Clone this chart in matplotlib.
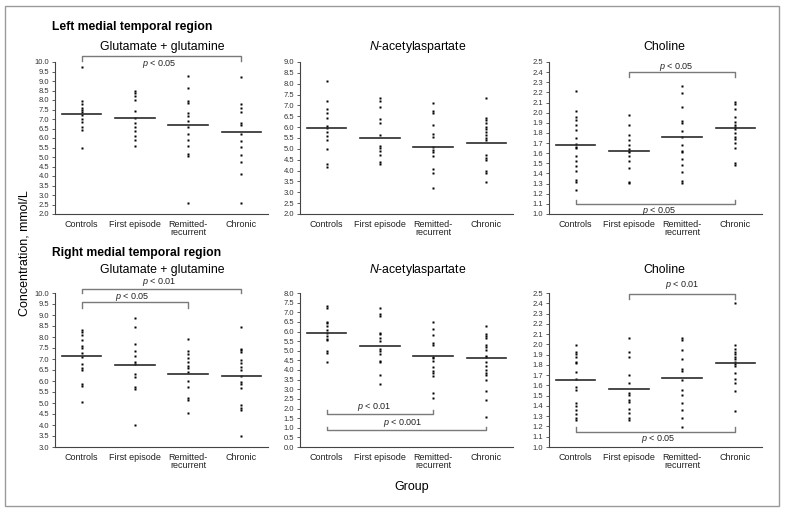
import numpy as np
import matplotlib
matplotlib.use('Agg')
import matplotlib.pyplot as plt
from matplotlib.patches import Rectangle

plt.rcParams['font.family'] = ['Liberation Sans', 'DejaVu Sans']
plt.rcParams['mathtext.fontset'] = 'custom'
plt.rcParams['mathtext.rm'] = 'Liberation Sans'
plt.rcParams['mathtext.it'] = 'Liberation Sans:italic'

gruppi = ['Controls', 'First episode', 'Remitted-\nrecurrent', 'Chronic']

# --- left medial temporal region ---
left_glx_controls = [9.75, 7.95, 7.8, 7.6, 7.45, 7.35, 7.2, 7.0, 6.85, 6.6, 6.4, 5.5]
left_glx_first = [8.48, 8.36, 8.22, 8.0, 7.4, 7.06, 6.8, 6.6, 6.38, 6.13, 5.87, 5.6]
left_glx_remitted = [9.25, 8.64, 7.96, 7.82, 7.32, 7.18, 6.9, 6.6, 6.22, 5.87, 5.57, 5.17, 5.05, 2.6]
left_glx_chronic = [9.2, 7.79, 7.58, 7.39, 6.78, 6.66, 6.22, 5.84, 5.52, 5.12, 4.74, 4.08, 2.6]
left_glx_medians = [7.25, 7.06, 6.69, 6.32]

left_naa_controls = [8.11, 7.19, 6.83, 6.66, 6.4, 6.04, 5.97, 5.78, 5.58, 5.4, 4.99, 4.28, 4.18]
left_naa_first = [7.32, 7.21, 6.93, 6.37, 6.2, 5.66, 5.13, 5.02, 4.91, 4.71, 4.4, 4.28]
left_naa_remitted = [7.09, 6.75, 6.63, 6.12, 5.68, 5.55, 5.1, 4.97, 4.87, 4.68, 4.07, 3.9, 3.18]
left_naa_chronic = [7.36, 6.44, 6.32, 6.17, 6.01, 5.91, 5.78, 5.66, 5.52, 5.43, 4.74, 4.59, 4.48, 3.99, 3.87, 3.49]
left_naa_medians = [5.94, 5.51, 5.08, 5.29]

left_cho_controls = [2.21, 2.02, 1.96, 1.93, 1.88, 1.83, 1.75, 1.69, 1.66, 1.65, 1.57, 1.52, 1.47, 1.42, 1.34, 1.32, 1.24]
left_cho_first = [1.98, 1.88, 1.78, 1.73, 1.68, 1.64, 1.62, 1.61, 1.57, 1.52, 1.45, 1.32, 1.31]
left_cho_remitted = [2.26, 2.19, 2.06, 1.92, 1.9, 1.82, 1.76, 1.68, 1.62, 1.61, 1.54, 1.48, 1.41, 1.33, 1.31]
left_cho_chronic = [2.11, 2.09, 2.04, 1.96, 1.91, 1.88, 1.86, 1.84, 1.8, 1.76, 1.74, 1.7, 1.65, 1.5, 1.48]
left_cho_medians = [1.68, 1.62, 1.76, 1.85]

# --- right medial temporal region ---
right_glx_controls = [8.34, 8.25, 8.07, 7.88, 7.58, 7.52, 7.27, 7.08, 6.78, 6.57, 6.48, 5.86, 5.77, 5.06]
right_glx_first = [8.87, 8.45, 7.7, 7.35, 7.12, 6.85, 6.78, 6.33, 6.2, 5.71, 5.65, 4.0]
right_glx_remitted = [7.92, 7.35, 7.24, 7.05, 6.87, 6.67, 6.57, 6.39, 5.98, 5.74, 5.24, 5.14, 4.56]
right_glx_chronic = [8.45, 7.47, 7.39, 7.32, 6.94, 6.82, 6.63, 6.49, 6.23, 5.96, 5.86, 5.66, 4.91, 4.79, 4.68, 3.48]
right_glx_medians = [7.15, 6.72, 6.34, 6.22]

right_naa_controls = [7.34, 7.24, 6.51, 6.43, 6.31, 6.07, 5.93, 5.75, 5.62, 5.55, 5.0, 4.89, 4.44]
right_naa_first = [7.22, 6.91, 6.83, 5.93, 5.86, 5.65, 5.5, 5.1, 5.0, 4.82, 4.48, 4.41, 3.75, 3.27]
right_naa_remitted = [6.48, 6.13, 5.84, 5.41, 5.29, 4.7, 4.6, 4.46, 4.18, 3.96, 3.85, 3.68, 2.8, 2.54]
right_naa_chronic = [6.26, 5.86, 5.77, 5.67, 5.29, 5.17, 5.06, 4.75, 4.65, 4.44, 4.23, 4.01, 3.84, 3.73, 3.49, 2.89, 2.44, 1.56]
right_naa_medians = [5.91, 5.27, 4.74, 4.61]

right_cho_controls = [1.99, 1.93, 1.91, 1.88, 1.83, 1.82, 1.73, 1.66, 1.58, 1.56, 1.43, 1.4, 1.36, 1.32, 1.28, 1.26]
right_cho_first = [2.06, 1.93, 1.88, 1.7, 1.62, 1.53, 1.51, 1.46, 1.44, 1.37, 1.33, 1.28, 1.26]
right_cho_remitted = [2.06, 2.04, 1.94, 1.86, 1.76, 1.74, 1.65, 1.56, 1.51, 1.43, 1.36, 1.28, 1.19]
right_cho_chronic = [2.4, 1.99, 1.95, 1.93, 1.91, 1.88, 1.86, 1.83, 1.81, 1.79, 1.72, 1.66, 1.62, 1.55, 1.35]
right_cho_medians = [1.655, 1.565, 1.67, 1.82]

fig = plt.figure(figsize=(7.86, 5.12), dpi=100)
fig.add_artist(Rectangle((5 / 786, 1 - 506 / 512), 774 / 786, 500 / 512, transform=fig.transFigure,
                         fill=False, edgecolor='#9a9a9a', lw=1.0))


def pannello(rect, valori, mediane, ylo, yhi, passo):
    ax = fig.add_axes(rect)
    for i, v in enumerate(valori):
        ax.plot([i + 1] * len(v), v, 's', ms=2.0, color='black', mec='none')
        ax.plot([i + 1 - 0.37, i + 1 + 0.37], [mediane[i], mediane[i]], color='#2a2a2a', lw=1.2)
    ax.set_xlim(0.5, 4.5)
    ax.set_ylim(ylo, yhi)
    tk = np.arange(ylo, yhi + passo / 2, passo)
    ax.set_yticks(tk)
    ax.set_yticklabels(['%.1f' % t for t in tk])
    ax.set_xticks([1, 2, 3, 4])
    ax.set_xticklabels(gruppi, fontsize=6.5, linespacing=0.85, color='#222222', va='top')
    ax.tick_params(axis='x', length=0, pad=4)
    ax.tick_params(axis='y', length=2.5, width=0.6, labelsize=5.5, pad=1.5, colors='#444444', labelcolor='#333333')
    for s in ['top', 'right']:
        ax.spines[s].set_visible(False)
    for s in ['left', 'bottom']:
        ax.spines[s].set_color('#444444')
        ax.spines[s].set_linewidth(0.8)
    return ax


def parentesi(ax, x1, x2, y, punta, testo, tx, ty):
    ax.plot([x1, x1, x2, x2], [punta, y, y, punta], color='#7a7a7a', lw=1.0, clip_on=False)
    ax.text(tx, ty, testo, fontsize=6.5, ha='center', va='center', color='#222222', clip_on=False)


larg = 213 / 786
sx = [55 / 786, 300 / 786, 549 / 786]
alto_top = [1 - 214 / 512, 152 / 512]
alto_bot = [1 - 447 / 512, 154 / 512]

# riga sopra
ax1 = pannello([sx[0], alto_top[0], larg, alto_top[1]],
               [left_glx_controls, left_glx_first, left_glx_remitted, left_glx_chronic],
               left_glx_medians, 2.0, 10.0, 0.5)
parentesi(ax1, 1, 4, 10.31, 10.05, '$p$ < 0.05', 2.45, 9.88)

ax2 = pannello([sx[1], alto_top[0], larg, alto_top[1]],
               [left_naa_controls, left_naa_first, left_naa_remitted, left_naa_chronic],
               left_naa_medians, 2.0, 9.0, 0.5)

ax3 = pannello([sx[2], alto_top[0], larg, alto_top[1]],
               [left_cho_controls, left_cho_first, left_cho_remitted, left_cho_chronic],
               left_cho_medians, 1.0, 2.5, 0.1)
parentesi(ax3, 2, 4, 2.40, 2.35, '$p$ < 0.05', 2.9, 2.455)
parentesi(ax3, 1, 4, 1.095, 1.14, '$p$ < 0.05', 2.58, 1.03)

# riga sotto
ax4 = pannello([sx[0], alto_bot[0], larg, alto_bot[1]],
               [right_glx_controls, right_glx_first, right_glx_remitted, right_glx_chronic],
               right_glx_medians, 3.0, 10.0, 0.5)
parentesi(ax4, 1, 3, 9.58, 9.3, '$p$ < 0.05', 1.96, 9.82)
parentesi(ax4, 1, 4, 10.18, 10.0, '$p$ < 0.01', 2.45, 10.5)

ax5 = pannello([sx[1], alto_bot[0], larg, alto_bot[1]],
               [right_naa_controls, right_naa_first, right_naa_remitted, right_naa_chronic],
               right_naa_medians, 0.0, 8.0, 0.5)
parentesi(ax5, 1, 3, 1.73, 1.9, '$p$ < 0.01', 1.89, 2.1)
parentesi(ax5, 1, 4, 0.87, 1.04, '$p$ < 0.001', 2.43, 1.27)

ax6 = pannello([sx[2], alto_bot[0], larg, alto_bot[1]],
               [right_cho_controls, right_cho_first, right_cho_remitted, right_cho_chronic],
               right_cho_medians, 1.0, 2.5, 0.1)
parentesi(ax6, 2, 4, 2.49, 2.44, '$p$ < 0.01', 3.0, 2.58)
parentesi(ax6, 1, 4, 1.15, 1.19, '$p$ < 0.05', 2.56, 1.075)

# titoli
fig.text(52 / 786, 1 - 27 / 512, 'Left medial temporal region', fontsize=8.7, fontweight='bold', va='center')
fig.text(52 / 786, 1 - 253 / 512, 'Right medial temporal region', fontsize=8.7, fontweight='bold', va='center')
for yy in [47, 270]:
    fig.text(162 / 786, 1 - yy / 512, 'Glutamate + glutamine', fontsize=8.8, ha='center', va='center')
    fig.text(418 / 786, 1 - yy / 512, '$N$-acetylaspartate', fontsize=8.8, ha='center', va='center')
    fig.text(664 / 786, 1 - yy / 512, 'Choline', fontsize=8.8, ha='center', va='center')

fig.text(25 / 786, 1 - 253 / 512, 'Concentration, mmol/L', fontsize=9, rotation=90, ha='center', va='center')
fig.text(412 / 786, 1 - 487 / 512, 'Group', fontsize=9, ha='center', va='center')

fig.savefig('out.png', dpi=100)
